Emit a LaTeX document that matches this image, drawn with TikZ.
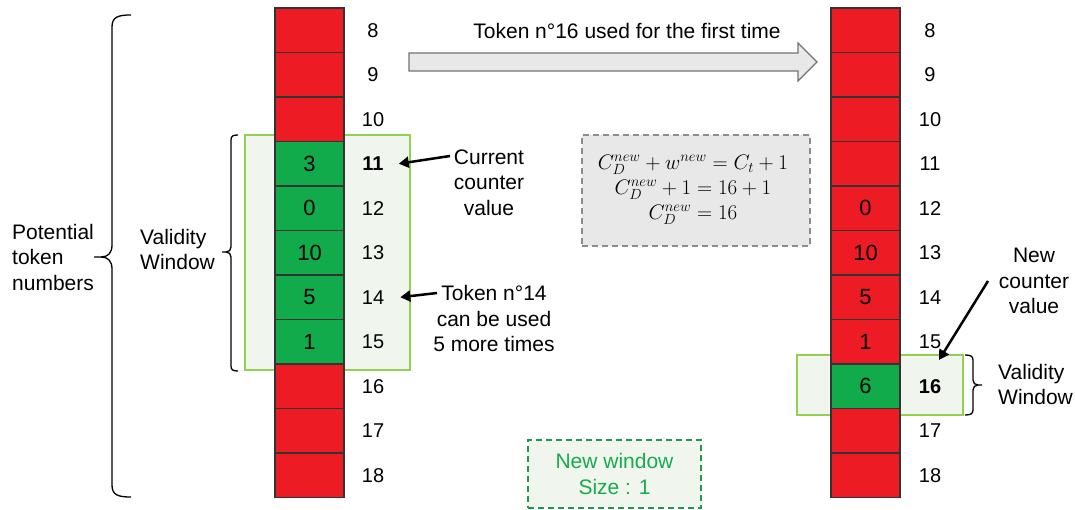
\RequirePackage{fix-cm}
\documentclass[tikz,border=0pt]{standalone}
\usepackage{fontspec}
\setmainfont{Liberation Sans}
\usetikzlibrary{arrows.meta}
\definecolor{cred}{HTML}{ED1C24}
\definecolor{cgreen}{HTML}{12AB4B}
\definecolor{wfill}{HTML}{F0F6EE}
\definecolor{wline}{HTML}{92D050}
\definecolor{agray}{HTML}{E8E8E8}
\definecolor{bgray}{HTML}{8C8C8C}
\definecolor{dgreen}{HTML}{1E9A4A}
\definecolor{tgreen}{HTML}{1AAA4E}
\begin{document}
\begin{tikzpicture}[x=1pt,y=-1pt,
  cell/.style={draw=black!80, line width=1.1pt, minimum width=69pt, minimum height=44.5pt, inner sep=0pt, font=\fontsize{22}{26}\selectfont},
  idx/.style={font=\fontsize{20}{24}\selectfont, inner sep=0pt},
  lbl/.style={font=\fontsize{21}{25.5}\selectfont, inner sep=0pt, align=center},
  lbll/.style={lbl, align=left, anchor=west},
  win/.style={draw=wline, fill=wfill, line width=1.3pt},
  arr/.style={-{Triangle[length=10pt,width=11pt]}, line width=2.5pt},
  brc/.style={line width=1.3pt},
  dashbox/.style={dash pattern=on 6pt off 4pt, line width=1.3pt}
]
\useasboundingbox (0,0) rectangle (1075,510);

% validity windows (background)
\draw[win] (245,135) rectangle (410,370);
\draw[win] (797,355) rectangle (963,415);

% left column
\foreach \n/\c/\t [count=\i from 0] in {8/cred/{},9/cred/{},10/cred/{},11/cgreen/3,12/cgreen/0,13/cgreen/10,14/cgreen/5,15/cgreen/1,16/cred/{},17/cred/{},18/cred/{}}
  \node[cell, fill=\c] (L\n) at (309.5, 30.25+44.5*\i) {\t};
\foreach \n/\t [count=\i from 0] in {8/8,9/9,10/10,11/\textbf{11},12/12,13/13,14/14,15/15,16/16,17/17,18/18}
  \node[idx] (Ln\n) at (373, 30.25+44.5*\i) {\t};

% right column
\foreach \n/\c/\t [count=\i from 0] in {8/cred/{},9/cred/{},10/cred/{},11/cred/{},12/cred/0,13/cred/10,14/cred/5,15/cred/1,16/cgreen/6,17/cred/{},18/cred/{}}
  \node[cell, fill=\c] (R\n) at (865.5, 30.25+44.5*\i) {\t};
\foreach \n/\t [count=\i from 0] in {8/8,9/9,10/10,11/11,12/12,13/13,14/14,15/15,16/\textbf{16},17/17,18/18}
  \node[idx] (Rn\n) at (930, 30.25+44.5*\i) {\t};

% braces
\draw[brc] (131,15) .. controls (118,15) and (112,17) .. (112,27) -- (112,245)
  .. controls (112,253) and (108,257) .. (101,257) -- (94,257);
\draw[brc] (101,257) .. controls (108,257) and (112,261) .. (112,269) -- (112,485)
  .. controls (112,495) and (118,497) .. (131,497);
\draw[brc] (238,135) .. controls (233,135) and (231,136) .. (231,140) -- (231,247)
  .. controls (231,250) and (229,252) .. (226,252) -- (222,252);
\draw[brc] (226,252) .. controls (229,252) and (231,254) .. (231,257) -- (231,366)
  .. controls (231,370) and (233,371) .. (238,371);
\draw[brc] (965,355) .. controls (970,355) and (973,356) .. (973,360) -- (973,380)
  .. controls (973,383) and (975,385) .. (978,385) -- (982,385);
\draw[brc] (978,385) .. controls (975,385) and (973,387) .. (973,390) -- (973,410)
  .. controls (973,414) and (970,415) .. (965,415);

% labels
\node[lbll] (pot) at (12,257) {Potential\\token\\numbers};
\node[lbll] (vwl) at (140,249.5) {Validity\\Window};
\node[lbll] (vwr) at (998,384.5) {Validity\\Window};
\node[lbl] (cur) at (489,182.5) {Current\\counter\\value};
\node[lbl] (tok) at (494,318.5) {Token n°14\\can be used\\5 more times};
\node[lbl] (ncv) at (1034,281) {New\\counter\\value};

% arrows
\coordinate (curarr) at (450,156);
\coordinate (tokarr) at (437,293);
\coordinate (ncarr) at (988,281);
\draw[arr] (curarr) -- ([xshift=15pt]Ln11.east);
\draw[arr] (tokarr) -- ([xshift=16pt]Ln14.east);
\draw[arr] (ncarr) -- ([xshift=9pt,yshift=19pt]Rn16.north);

% top block arrow
\draw[draw=black!55, fill=agray, line width=1.3pt]
  (409,53) -- (798,53) -- (798,43) -- (817,62) -- (798,81) -- (798,71) -- (409,71) -- cycle;
\node[lbl] (ttl) at (627,31) {Token n°16 used for the first time};

% formula box
\node[draw=bgray, dashbox, fill=agray, minimum width=228pt, minimum height=111pt, inner sep=0pt] (fbox) at (696,190.5) {};
\node[align=center, inner sep=0pt, font=\fontsize{21}{25}\selectfont] (form) at (693,190)
  {$C_D^{new}+w^{new}=C_t+1$\\$C_D^{new}+1=16+1$\\$C_D^{new}=16$};

% new window box
\node[lbl, draw=dgreen, dashbox, fill=wfill, text=tgreen, minimum width=173pt, minimum height=68pt] (nw) at (614.5,474) {New window\\Size : 1};
\end{tikzpicture}
\end{document}
